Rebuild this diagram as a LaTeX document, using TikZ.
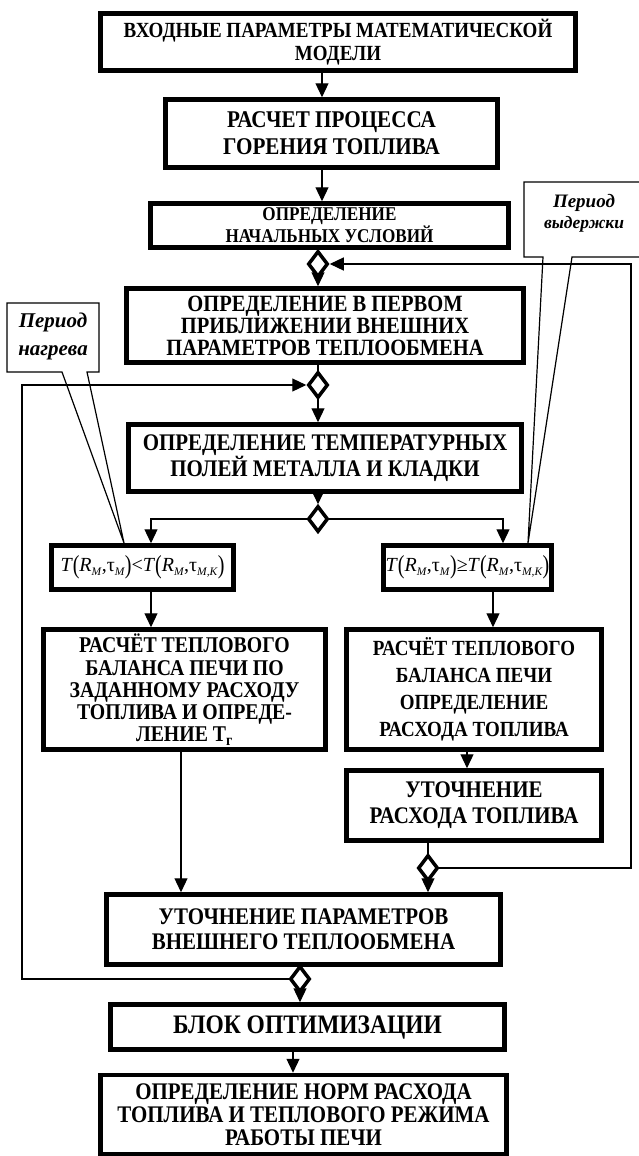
\documentclass[tikz,border=0pt]{standalone}
\usepackage{fontspec}
\setmainfont{Liberation Serif}
\newfontfamily\boxfont{Liberation Serif}[FakeStretch=0.88]
\usepackage{graphicx}
\usetikzlibrary{arrows.meta,shapes.geometric,backgrounds}
\newcommand{\bfz}[2]{\boxfont\fontsize{#1}{#2}\selectfont\bfseries}
\newcommand{\mysb}[1]{\raisebox{-0.45ex}{\fontsize{11.5}{11.5}\selectfont\textit{#1}}}
\newcommand{\mypr}[1]{\raisebox{-0.12em}{\scalebox{1}[1.3]{#1}}}
\newcommand{\mycond}[1]{\textit{T}\mypr{(}\textit{R}\mysb{M},τ\mysb{M}\mypr{)}#1\textit{T}\mypr{(}\textit{R}\mysb{M},τ\mysb{M,K}\mypr{)}}
\begin{document}
\begin{tikzpicture}[x=1pt,y=-1pt,
  box/.style={draw, line width=4.5pt, inner sep=0pt, align=center},
  dia/.style={shape=diamond, draw, fill=white, line width=3.5pt, minimum width=20pt, minimum height=26pt, inner sep=0pt},
  arr/.style={line width=1.2pt, -{Triangle[length=14pt,width=13pt]}},
  ln/.style={line width=1.2pt},
  call/.style={line width=1.2pt},
  ctxt/.style={align=center, inner sep=0pt}]
\useasboundingbox (0,0) rectangle (639,1156);
\clip (0,0) rectangle (639,1156);
% x positions of connectors
\coordinate (xa) at (322,0);
\coordinate (xb) at (151,0);
\coordinate (xc) at (503,0);
\coordinate (xd) at (493,0);
\coordinate (xe) at (467,0);
\coordinate (xf) at (181,0);
\coordinate (xg) at (293,0);
\coordinate (xl) at (22,0);
\coordinate (xr) at (631,0);
% boxes
\node[box, minimum width=475pt, minimum height=57pt, font=\bfz{21.6}{23}] (b1) at (338,42) {ВХОДНЫЕ ПАРАМЕТРЫ МАТЕМАТИЧЕСКОЙ\\МОДЕЛИ};
\node[box, minimum width=332pt, minimum height=68pt, font=\bfz{24}{27}] (b2) at (331.5,133.5) {РАСЧЕТ ПРОЦЕССА\\ГОРЕНИЯ ТОПЛИВА};
\node[box, minimum width=358pt, minimum height=44pt, font=\bfz{19.5}{20}] (b3) at (329.5,225.5) {ОПРЕДЕЛЕНИЕ\\НАЧАЛЬНЫХ УСЛОВИЙ};
\node[box, minimum width=397pt, minimum height=74pt, font=\bfz{23.3}{22}] (b4) at (325,325.5) {ОПРЕДЕЛЕНИЕ В ПЕРВОМ\\ПРИБЛИЖЕНИИ ВНЕШНИХ\\ПАРАМЕТРОВ ТЕПЛООБМЕНА};
\node[box, minimum width=393pt, minimum height=67pt, font=\bfz{23.8}{24}] (b5) at (325,458) {ОПРЕДЕЛЕНИЕ ТЕМПЕРАТУРНЫХ\\ПОЛЕЙ МЕТАЛЛА И КЛАДКИ};
\node[box, minimum width=182pt, minimum height=44pt, font=\fontsize{20}{22}\selectfont] (c1) at (142.5,567.5) {\mycond{<}};
\node[box, minimum width=168pt, minimum height=44pt, font=\fontsize{20}{22}\selectfont] (c2) at (467.5,567.5) {\mycond{≥}};
\node[box, minimum width=282pt, minimum height=120pt, font=\bfz{22.5}{22.3}] (b6) at (184.5,689.5) {РАСЧЁТ ТЕПЛОВОГО\\БАЛАНСА ПЕЧИ ПО\\ЗАДАННОМУ РАСХОДУ\\ТОПЛИВА И ОПРЕДЕ-\\ЛЕНИЕ Т\textsubscript{г}};
\node[box, minimum width=255pt, minimum height=120pt, font=\bfz{21.6}{27}] (b7) at (474,689.5) {РАСЧЁТ ТЕПЛОВОГО\\БАЛАНСА ПЕЧИ\\ОПРЕДЕЛЕНИЕ\\РАСХОДА ТОПЛИВА};
\node[box, minimum width=255pt, minimum height=70pt, font=\bfz{23.8}{26}] (b8) at (474,805.5) {УТОЧНЕНИЕ\\РАСХОДА ТОПЛИВА};
\node[box, minimum width=394pt, minimum height=70pt, font=\bfz{23.8}{25}] (b9) at (303.5,929.5) {УТОЧНЕНИЕ ПАРАМЕТРОВ\\ВНЕШНЕГО ТЕПЛООБМЕНА};
\node[box, minimum width=394pt, minimum height=45pt, font=\bfz{26.7}{28}] (b10) at (307.5,1027) {БЛОК ОПТИМИЗАЦИИ};
\node[box, minimum width=406pt, minimum height=79pt, font=\bfz{23.8}{23}] (b11) at (303.5,1114.5) {ОПРЕДЕЛЕНИЕ НОРМ РАСХОДА\\ТОПЛИВА И ТЕПЛОВОГО РЕЖИМА\\РАБОТЫ ПЕЧИ};
% diamonds
\node[dia] (d1) at (318,264) {};
\node[dia] (d2) at (318,385) {};
\node[dia] (d3) at (318,519) {};
\node[dia] (d5) at (428,868) {};
\node[dia] (d6) at (300,979) {};
% connectors
\begin{scope}[on background layer]
\draw[arr] (b1.south -| xa) -- (b2.north -| xa);
\draw[arr] (b2.south -| xa) -- (b3.north -| xa);
\draw[ln] (b3.south -| d1) -- (d1.center);
\draw[arr] (d1.center) -- (b4.north -| d1);
\draw[ln] (b4.south -| d2) -- (d2.center);
\draw[arr] (d2.center) -- (b5.north -| d2);
\draw[arr] (b5.south -| d3) -- (d3.north);
\draw[arr] (d3.center) -| (c1.north -| xb);
\draw[arr] (d3.center) -| (c2.north -| xc);
\draw[arr] (c1.south -| xb) -- (b6.north -| xb);
\draw[arr] (c2.south -| xd) -- (b7.north -| xd);
\draw[arr] (b7.south -| xe) -- (b8.north -| xe);
\draw[ln] (b8.south -| d5) -- (d5.center);
\draw[arr] (d5.center) -- (b9.north -| d5);
\draw[arr] (b6.south -| xf) -- (b9.north -| xf);
\draw[ln] (b9.south -| d6) -- (d6.center);
\draw[arr] (d6.center) -- (b10.north -| d6);
\draw[arr] (b10.south -| xg) -- (b11.north -| xg);
\draw[arr] (d5.center) -- (d5.center -| xr) -- (d1.center -| xr) -- (d1.east);
\draw[arr] (d6.center) -- (d6.center -| xl) -- (d2.center -| xl) -- (d2.west);
\end{scope}
% callouts
\coordinate (tipL) at (124,543);
\coordinate (tipR) at (528,543);
\draw[call] (7,303) -- (99,303) -- (99,372) -- (87,372) -- (tipL) -- (62,372) -- (7,372) -- cycle;
\draw[call] (524,182) -- (650,182) -- (650,257) -- (572,257) -- (tipR) -- (543,257) -- (524,257) -- cycle;
\node[ctxt, font=\fontsize{21}{28}\selectfont\bfseries\itshape] (tl) at (53,336) {Период\\нагрева};
\node[ctxt, font=\fontsize{19}{21}\selectfont\bfseries\itshape] (tr) at (584,213) {Период\\{\fontsize{17.5}{21}\selectfont выдержки}};
\end{tikzpicture}
\end{document}
